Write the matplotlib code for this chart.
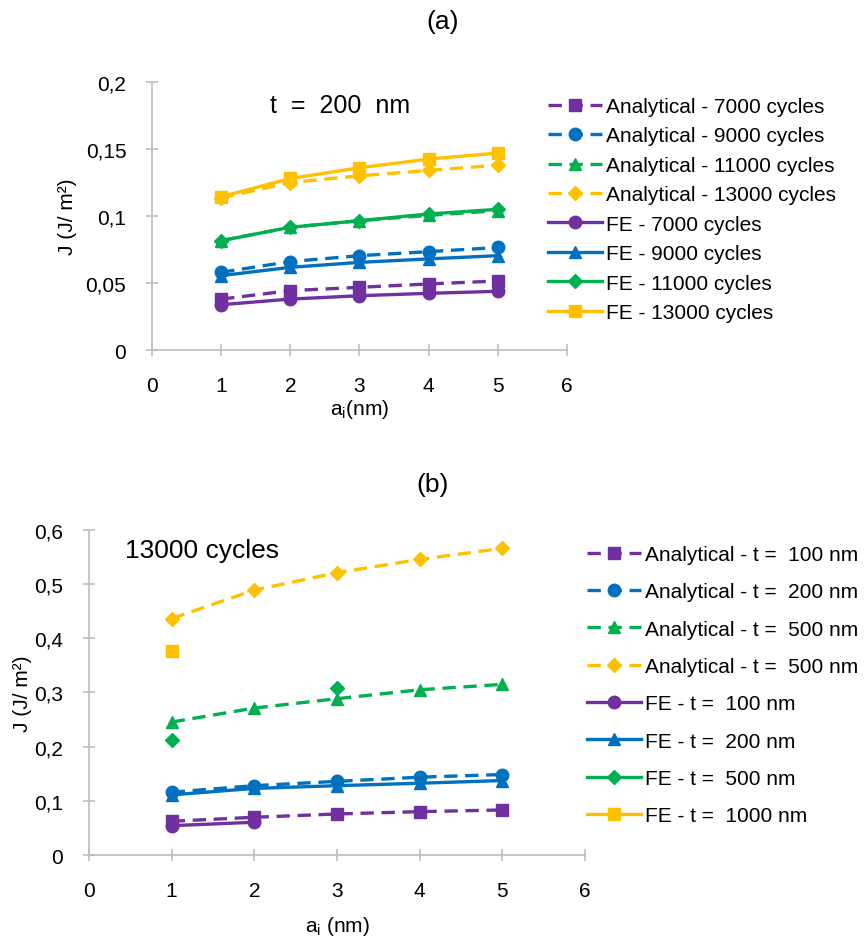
import matplotlib.pyplot as plt
import numpy as np
from matplotlib.ticker import FuncFormatter

plt.rcParams['font.family'] = ['Liberation Sans', 'DejaVu Sans']
plt.rcParams['mathtext.default'] = 'regular'

# данные
a_i = [1, 2, 3, 4, 5]

# (a) t = 200 nm
an_7000 = [0.038, 0.0443, 0.0468, 0.0493, 0.0515]
an_9000 = [0.058, 0.066, 0.0704, 0.0734, 0.0765]
an_11000 = [0.0816, 0.0916, 0.0965, 0.1005, 0.104]
an_13000 = [0.1135, 0.125, 0.130, 0.134, 0.138]
fe_7000 = [0.0338, 0.038, 0.0405, 0.0423, 0.0438]
fe_9000 = [0.0555, 0.0617, 0.0654, 0.068, 0.0704]
fe_11000 = [0.0816, 0.0916, 0.0965, 0.1015, 0.105]
fe_13000 = [0.1144, 0.128, 0.136, 0.1425, 0.147]

# (b) 13000 cycles
an_t100 = [0.0623, 0.0697, 0.0758, 0.0801, 0.0832]
an_t200 = [0.116, 0.128, 0.136, 0.1437, 0.1486]
an_t500 = [0.2454, 0.2713, 0.2885, 0.305, 0.315]
an_t500b = [0.4365, 0.489, 0.521, 0.5456, 0.566]
fe_t100 = [0.0542, 0.0605, np.nan, np.nan, np.nan]
fe_t200 = [0.111, 0.123, 0.128, 0.1325, 0.1375]
fe_t500 = [0.2114, np.nan, 0.308, np.nan, np.nan]
fe_t1000 = [0.3767, np.nan, np.nan, np.nan, np.nan]

purple = '#7030A0'
blue = '#0070C0'
green = '#00B050'
yellow = '#FFC000'

fig = plt.figure(figsize=(8.66, 9.37), dpi=100)
ax1 = fig.add_axes([0.1755, 0.6254, 0.4792, 0.286])
ax2 = fig.add_axes([0.1028, 0.0864, 0.5727, 0.347])

dash = (4, 2.3)
lw = 2.4


def comma(v, pos):
    return ('%g' % round(v, 3)).replace('.', ',')


def style(ax):
    for s in ['top', 'right']:
        ax.spines[s].set_visible(False)
    for s in ['left', 'bottom']:
        ax.spines[s].set_color('#BFBFBF')
        ax.spines[s].set_linewidth(1.2)
    ax.tick_params(direction='inout', length=9, width=1.2, color='#BFBFBF',
                   labelsize=15, pad=14)
    ax.yaxis.set_major_formatter(FuncFormatter(comma))
    ax.set_xlim(0, 6)
    ax.set_xticks(range(7))


def line(ax, y, c, m, ls, lab, ms=9):
    ax.plot(a_i, y, color=c, marker=m, markersize=ms, linewidth=lw,
            linestyle=ls, label=lab, dashes=dash if ls == '--' else (None, None),
            clip_on=False)


# график (a)
line(ax1, an_7000, purple, 's', '--', 'Analytical - 7000 cycles')
line(ax1, an_9000, blue, 'o', '--', 'Analytical - 9000 cycles')
line(ax1, an_11000, green, '^', '--', 'Analytical - 11000 cycles')
line(ax1, an_13000, yellow, 'D', '--', 'Analytical - 13000 cycles', ms=7)
line(ax1, fe_7000, purple, 'o', '-', 'FE - 7000 cycles')
line(ax1, fe_9000, blue, '^', '-', 'FE - 9000 cycles')
line(ax1, fe_11000, green, 'D', '-', 'FE - 11000 cycles', ms=7)
line(ax1, fe_13000, yellow, 's', '-', 'FE - 13000 cycles')
style(ax1)
ax1.set_ylim(0, 0.2)
ax1.set_yticks([0, 0.05, 0.1, 0.15, 0.2])
ax1.set_xlabel('a$_i$(nm)', fontsize=15, labelpad=2)
ax1.set_ylabel('J (J/ m²)', fontsize=15, labelpad=6)
fig.text(270 / 866, 1 - 113 / 937, 't  =  200  nm', fontsize=18, va='baseline')
fig.text(443 / 866, 1 - 22 / 937, '(a)', fontsize=19, ha='center', va='center')
ax1.legend(loc='upper left', bbox_to_anchor=(548 / 866, 1 - 98 / 937),
           bbox_transform=fig.transFigure, frameon=False, fontsize=15,
           borderpad=0, borderaxespad=0, labelspacing=0.5,
           handlelength=2.6, handletextpad=0.2)

# график (b)
line(ax2, an_t100, purple, 's', '--', 'Analytical - t =  100 nm')
line(ax2, an_t200, blue, 'o', '--', 'Analytical - t =  200 nm')
line(ax2, an_t500, green, '^', '--', 'Analytical - t =  500 nm')
line(ax2, an_t500b, yellow, 'D', '--', 'Analytical - t =  500 nm', ms=7)
line(ax2, fe_t100, purple, 'o', '-', 'FE - t =  100 nm')
line(ax2, fe_t200, blue, '^', '-', 'FE - t =  200 nm')
line(ax2, fe_t500, green, 'D', '-', 'FE - t =  500 nm', ms=7)
line(ax2, fe_t1000, yellow, 's', '-', 'FE - t =  1000 nm')
style(ax2)
ax2.set_ylim(0, 0.6)
ax2.set_yticks([0, 0.1, 0.2, 0.3, 0.4, 0.5, 0.6])
ax2.set_xlabel('a$_i$ (nm)', fontsize=15, labelpad=10)
ax2.set_ylabel('J (J/ m²)', fontsize=15, labelpad=2)
fig.text(125 / 866, 1 - 558 / 937, '13000 cycles', fontsize=19, va='baseline')
fig.text(433 / 866, 1 - 485 / 937, '(b)', fontsize=19, ha='center', va='center')
ax2.legend(loc='upper left', bbox_to_anchor=(587 / 866, 1 - 546 / 937),
           bbox_transform=fig.transFigure, frameon=False, fontsize=15,
           borderpad=0, borderaxespad=0, labelspacing=0.88,
           handlelength=2.6, handletextpad=0.2)

fig.savefig('out.png', dpi=100)
